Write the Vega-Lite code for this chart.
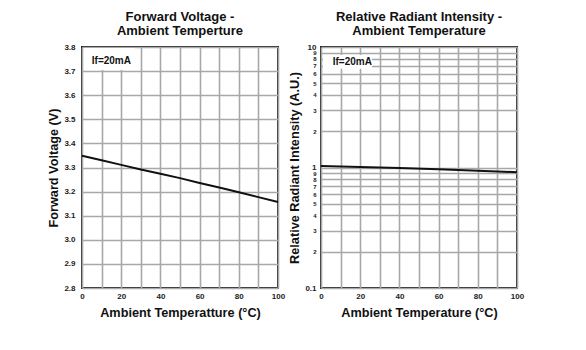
{
  "$schema": "https://vega.github.io/schema/vega-lite/v6.json",
  "padding": {"left": 46, "top": 10, "right": 5, "bottom": 5},
  "background": "white",
  "spacing": 43,
  "bounds": "flush",
  "config": {
    "font": "Liberation Sans",
    "view": {"stroke": "#222", "strokeWidth": 2},
    "title": {"fontSize": 13, "lineHeight": 14, "fontWeight": "bold", "color": "#111", "offset": 5, "anchor": "middle"},
    "axis": {
      "labelFont": "Liberation Sans", "labelFontWeight": "bold", "labelFontSize": 8, "labelColor": "#222",
      "titleFont": "Liberation Sans", "titleFontWeight": "bold", "titleFontSize": 12.7, "titleColor": "#111",
      "labelOverlap": false, "labelFlush": false, "tickCount": 30,
      "ticks": false, "domain": false, "gridColor": "#a8a8a8", "gridWidth": 1.6, "gridOpacity": 1
    }
  },
  "datasets": {
    "vf": [
      {"t": 0, "v": 3.349}, {"t": 10, "v": 3.33}, {"t": 20, "v": 3.311}, {"t": 30, "v": 3.292},
      {"t": 40, "v": 3.274}, {"t": 50, "v": 3.256}, {"t": 60, "v": 3.236}, {"t": 70, "v": 3.217},
      {"t": 80, "v": 3.197}, {"t": 90, "v": 3.177}, {"t": 100, "v": 3.157}
    ],
    "ri": [
      {"t": 0, "r": 1.03}, {"t": 20, "r": 1.01}, {"t": 40, "r": 0.99}, {"t": 60, "r": 0.965},
      {"t": 80, "r": 0.94}, {"t": 100, "r": 0.915}
    ]
  },
  "hconcat": [
    {
      "width": 196, "height": 241,
      "title": {"text": ["Forward Voltage -", "Ambient Temperture"]},
      "layer": [
        {
          "data": {"values": [{"x1": 1, "x2": 27, "y1": 3.705, "y2": 3.796}]},
          "mark": {"type": "rect", "fill": "white"},
          "encoding": {
            "x": {"field": "x1", "type": "quantitative", "scale": {"domain": [0, 100]},
              "axis": {"values": [0,10,20,30,40,50,60,70,80,90,100], "tickCount": 30, "labelExpr": "datum.value % 20 == 0 ? datum.label : ''", "title": "Ambient Temperatture (°C)", "labelPadding": 4, "titlePadding": 6}},
            "x2": {"field": "x2"},
            "y": {"field": "y1", "type": "quantitative", "scale": {"domain": [2.8, 3.8]},
              "axis": {"values": [2.8,2.9,3.0,3.1,3.2,3.3,3.4,3.5,3.6,3.7,3.8], "tickCount": 30, "format": ".1f", "title": "Forward Voltage (V)", "labelPadding": 7, "titlePadding": 3}},
            "y2": {"field": "y2"}
          }
        },
        {
          "data": {"values": [{"label": "If=20mA", "lx": 5, "ly": 3.74}]},
          "mark": {"type": "text", "align": "left", "baseline": "middle", "fontWeight": "bold", "fontSize": 10, "color": "#111"},
          "encoding": {
            "x": {"field": "lx", "type": "quantitative"},
            "y": {"field": "ly", "type": "quantitative"},
            "text": {"field": "label"}
          }
        },
        {
          "data": {"name": "vf"},
          "mark": {"type": "line", "color": "#111", "strokeWidth": 2},
          "encoding": {
            "x": {"field": "t", "type": "quantitative"},
            "y": {"field": "v", "type": "quantitative"}
          }
        }
      ]
    },
    {
      "width": 196, "height": 241,
      "title": {"text": ["Relative Radiant Intensity -", "Ambient Temperature"]},
      "layer": [
        {
          "data": {"values": [{"x1": 1, "x2": 26, "y1": 6.6, "y2": 8.6}]},
          "mark": {"type": "rect", "fill": "white"},
          "encoding": {
            "x": {"field": "x1", "type": "quantitative", "scale": {"domain": [0, 100]},
              "axis": {"values": [0,10,20,30,40,50,60,70,80,90,100], "tickCount": 30, "labelExpr": "datum.value % 20 == 0 ? datum.label : ''", "title": "Ambient Temperature (°C)", "labelPadding": 4, "titlePadding": 6}},
            "x2": {"field": "x2"},
            "y": {"field": "y1", "type": "quantitative", "scale": {"type": "log", "domain": [0.1, 10]},
              "axis": {"values": [0.1,0.2,0.3,0.4,0.5,0.6,0.7,0.8,0.9,1,2,3,4,5,6,7,8,9,10], "tickCount": 30,
                "labelExpr": "datum.value == 0.1 ? '0.1' : datum.value == 1 ? '1' : datum.value == 10 ? '10' : datum.value < 1 ? format(datum.value * 10, 'd') : format(datum.value, 'd')",
                "labelFontSize": {"condition": {"test": "datum.value == 0.1 || datum.value == 1 || datum.value == 10", "value": 8}, "value": 6},
                "title": "Relative Radiant Intensity (A.U.)", "labelPadding": 5, "titlePadding": 3}},
            "y2": {"field": "y2"}
          }
        },
        {
          "data": {"values": [{"label": "If=20mA", "lx": 6, "ly": 7.5}]},
          "mark": {"type": "text", "align": "left", "baseline": "middle", "fontWeight": "bold", "fontSize": 10, "color": "#111"},
          "encoding": {
            "x": {"field": "lx", "type": "quantitative"},
            "y": {"field": "ly", "type": "quantitative"},
            "text": {"field": "label"}
          }
        },
        {
          "data": {"name": "ri"},
          "mark": {"type": "line", "color": "#111", "strokeWidth": 2},
          "encoding": {
            "x": {"field": "t", "type": "quantitative"},
            "y": {"field": "r", "type": "quantitative"}
          }
        }
      ]
    }
  ]
}
